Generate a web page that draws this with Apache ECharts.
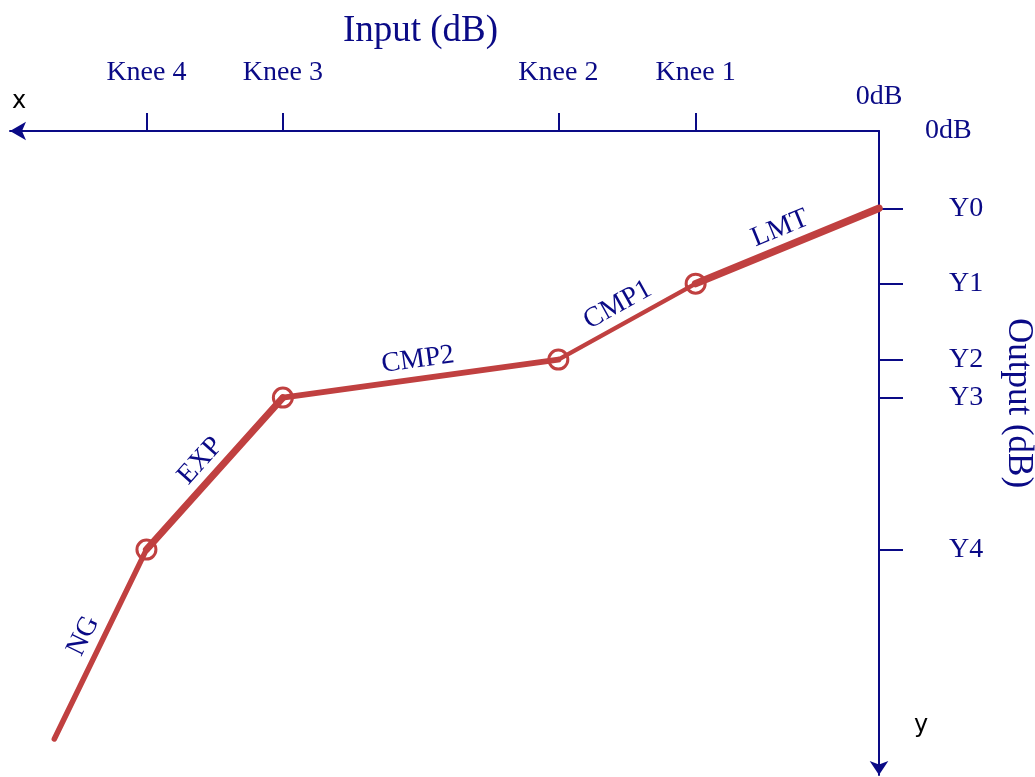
<!DOCTYPE html>
<html>
<head>
<meta charset="utf-8">
<script src="https://cdn.jsdelivr.net/npm/echarts@6/dist/echarts.min.js"></script>
<style>
  html, body { margin: 0; padding: 0; background: #fff; }
  #chart { width: 1035px; height: 777px; }
</style>
</head>
<body>
<div id="chart"></div>
<script>
// 曲线拐点（输入 / 输出, dB）
const inputPts  = [-94.9, -84.3, -68.6, -36.9, -21.1, 0]
const outputPts = [-94.4, -65.0, -41.4, -35.5, -23.7, -12.0]
// 各段名称与线宽
const segNames  = ['NG', 'EXP', 'CMP2', 'CMP1', 'LMT']
const segWidths = [5.5, 7, 6, 4.5, 7.5]
// 坐标轴刻度
const kneeValues = [-84.3, -68.6, -36.9, -21.1]
const kneeLabels = ['Knee 4', 'Knee 3', 'Knee 2', 'Knee 1']
const yTickValues = [-12.0, -23.7, -35.5, -41.4, -65.0]
const yTickLabels = ['Y0', 'Y1', 'Y2', 'Y3', 'Y4']

const RED = '#c04040'
const NAVY = '#0a0a86'
const SERIF = 'Liberation Serif'

const chart = echarts.init(document.getElementById('chart'))

const segments = segNames.map((name, i) => [
  { coord: [inputPts[i], outputPts[i]], name: name, lineStyle: { width: segWidths[i] } },
  { coord: [inputPts[i + 1], outputPts[i + 1]] }
])

const knees = inputPts.slice(1, -1).map((x, i) => [x, outputPts[i + 1]])

chart.setOption({
  animation: false,
  grid: { left: 10, right: 156, top: 131, bottom: 2, outerBoundsMode: 'none', containLabel: false },
  xAxis: [
    {
      type: 'value', position: 'top', min: -100, max: 0,
      name: 'Input (dB)', nameLocation: 'middle', nameGap: 81,
      nameTextStyle: { fontFamily: SERIF, fontSize: 37, color: NAVY, padding: [0, 48, 0, 0] },
      axisLine: { show: true, lineStyle: { color: NAVY, width: 2 }, symbol: ['arrow', 'none'], symbolSize: [14, 16] },
      axisTick: { show: true, length: 18, customValues: kneeValues, lineStyle: { color: NAVY, width: 2 } },
      axisLabel: {
        customValues: kneeValues, margin: 44,
        fontFamily: SERIF, fontSize: 28, color: NAVY,
        formatter: v => kneeLabels[kneeValues.indexOf(v)]
      },
      splitLine: { show: false }
    },
    {
      type: 'value', position: 'top', min: -100, max: 0,
      axisLine: { show: false }, axisTick: { show: false }, splitLine: { show: false },
      axisLabel: { customValues: [0], margin: 20, fontFamily: SERIF, fontSize: 28, color: NAVY, formatter: () => '0dB' }
    }
  ],
  yAxis: [
    {
      type: 'value', position: 'right', min: -100, max: 0,
      name: 'Output (dB)', nameLocation: 'middle', nameGap: 122, nameRotate: -90,
      nameTextStyle: { fontFamily: SERIF, fontSize: 35, color: NAVY, padding: [0, 100, 0, 0] },
      axisLine: { show: true, lineStyle: { color: NAVY, width: 2 }, symbol: ['arrow', 'none'], symbolSize: [14, 14] },
      axisTick: { show: true, length: 24, customValues: yTickValues, lineStyle: { color: NAVY, width: 2 } },
      axisLabel: {
        customValues: yTickValues, margin: 70,
        fontFamily: SERIF, fontSize: 28, color: NAVY,
        formatter: v => yTickLabels[yTickValues.indexOf(v)]
      },
      splitLine: { show: false }
    },
    {
      type: 'value', position: 'right', min: -100, max: 0,
      axisLine: { show: false }, axisTick: { show: false }, splitLine: { show: false },
      axisLabel: { customValues: [0], margin: 46, fontFamily: SERIF, fontSize: 28, color: NAVY, formatter: () => '0dB' }
    }
  ],
  graphic: [
    { type: 'text', left: 12, top: 90, style: { text: 'x', font: '24px DejaVu Sans', fill: '#000' } },
    { type: 'text', left: 914, top: 714, style: { text: 'y', font: '24px DejaVu Sans', fill: '#000' } }
  ],
  series: [
    {
      type: 'line', data: [], silent: true,
      markLine: {
        silent: true, symbol: ['none', 'none'],
        lineStyle: { color: RED, type: 'solid', cap: 'round', opacity: 1 },
        label: {
          show: true, position: 'middle', distance: 5, formatter: '{b}',
          fontFamily: SERIF, fontSize: 28, color: NAVY
        },
        emphasis: { disabled: true },
        data: segments
      }
    },
    {
      type: 'scatter', data: knees, symbol: 'circle', symbolSize: 19, z: 5, silent: true,
      itemStyle: { color: 'rgba(0,0,0,0)', borderColor: RED, borderWidth: 3, opacity: 1 }
    }
  ]
})
</script>
</body>
</html>
